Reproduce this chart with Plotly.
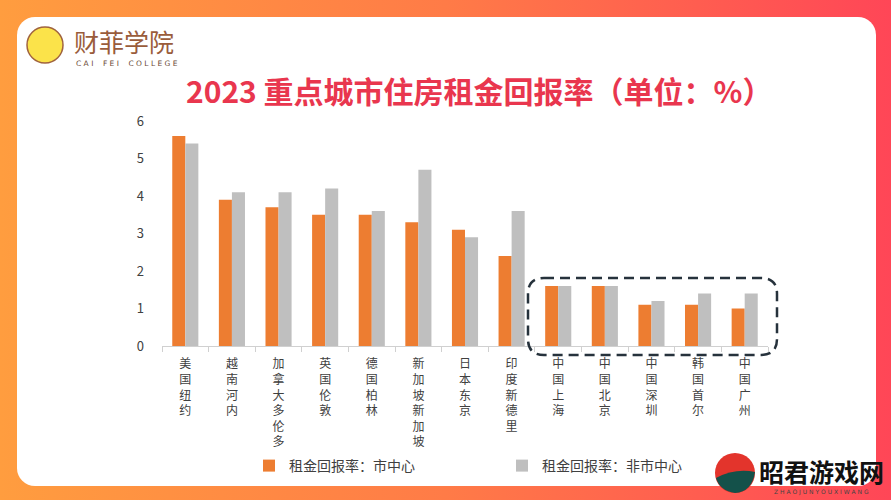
import base64
import plotly.graph_objects as go

# ---------------- data ----------------
cities = ["美国纽约", "越南河内", "加拿大多伦多", "英国伦敦", "德国柏林", "新加坡新加坡",
          "日本东京", "印度新德里", "中国上海", "中国北京", "中国深圳", "韩国首尔", "中国广州"]
center_vals = [5.6, 3.9, 3.7, 3.5, 3.5, 3.3, 3.1, 2.4, 1.6, 1.6, 1.1, 1.1, 1.0]
noncenter_vals = [5.4, 4.1, 4.1, 4.2, 3.6, 4.7, 2.9, 3.6, 1.6, 1.6, 1.2, 1.4, 1.4]
series_names = ["租金回报率：市中心", "租金回报率：非市中心"]
y_ticks = [0, 1, 2, 3, 4, 5, 6]
title_text = "2023 重点城市住房租金回报率（单位：%）"

W, H = 891, 500
FONT = "Noto Sans CJK SC"

def px(x):
    return x / W

def py(y):
    return 1 - y / H

# vertical tick labels: one character per line
tick_text = ["<br>".join(list(c)) for c in cities]

fig = go.Figure()
fig.add_trace(go.Bar(x=cities, y=center_vals, name=series_names[0],
                     marker=dict(color="#ED7D31", line=dict(width=0))))
fig.add_trace(go.Bar(x=cities, y=noncenter_vals, name=series_names[1],
                     marker=dict(color="#BFBFBF", line=dict(width=0))))

# background: gradient frame + white rounded card (SVG image)
svg = f'''<svg xmlns="http://www.w3.org/2000/svg" width="{W}" height="{H}" viewBox="0 0 {W} {H}" preserveAspectRatio="none">
<defs><linearGradient id="g" x1="0" y1="0" x2="1" y2="0">
<stop offset="0" stop-color="#FF9D3F"/><stop offset="0.5" stop-color="#FF7B47"/><stop offset="1" stop-color="#FF4657"/>
</linearGradient></defs>
<rect x="0" y="0" width="{W}" height="{H}" fill="url(#g)"/>
<rect x="17" y="17" width="859" height="469" rx="18" ry="18" fill="#FFFFFF"/>
</svg>'''
src = "data:image/svg+xml;base64," + base64.b64encode(svg.encode("utf-8")).decode("ascii")

# dashed rounded rectangle around Chinese cities
x0, x1, yt, yb, r = 528, 777, 278, 355, 16
rx, ry = r / W, r / H
X0, X1, YT, YB = px(x0), px(x1), py(yt), py(yb)
path = (f"M{X0+rx},{YT} L{X1-rx},{YT} Q{X1},{YT} {X1},{YT-ry} "
        f"L{X1},{YB+ry} Q{X1},{YB} {X1-rx},{YB} "
        f"L{X0+rx},{YB} Q{X0},{YB} {X0},{YB+ry} "
        f"L{X0},{YT-ry} Q{X0},{YT} {X0+rx},{YT} Z")

shapes = [
    dict(type="path", path=path, xref="paper", yref="paper",
         line=dict(color="#26323C", width=2.5, dash="10px,6px"), fillcolor="rgba(0,0,0,0)"),
    # logo cat circle
    dict(type="circle", xref="paper", yref="paper",
         x0=px(27), x1=px(63), y0=py(63), y1=py(27),
         fillcolor="#FBE34A", line=dict(color="#A0633E", width=1.5)),
    # watermark logo
    dict(type="circle", xref="paper", yref="paper",
         x0=px(715), x1=px(755), y0=py(493), y1=py(453),
         fillcolor="#E3342C", line=dict(width=0)),
    dict(type="path", xref="paper", yref="paper",
         path=f"M{px(716)},{py(478)} Q{px(735)},{py(468)} {px(755)},{py(472)} "
              f"Q{px(752)},{py(492)} {px(735)},{py(493)} Q{px(720)},{py(491)} {px(716)},{py(478)} Z",
         fillcolor="#14514A", line=dict(width=0)),
]

annotations = [
    dict(text=f"<b>{title_text}</b>", x=px(479), y=py(90), xref="paper", yref="paper",
         showarrow=False, xanchor="center", yanchor="middle",
         font=dict(family=FONT, size=30, color="#E9364E")),
    dict(text="财菲学院", x=px(72), y=py(41.5), xref="paper", yref="paper",
         showarrow=False, xanchor="left", yanchor="middle",
         font=dict(family=FONT, size=25, color="#9A5C3B")),
    dict(text="C A I    F E I    C O L L E G E", x=px(74), y=py(63.5), xref="paper", yref="paper",
         showarrow=False, xanchor="left", yanchor="middle",
         font=dict(family="DejaVu Sans", size=7.5, color="#6B4A36")),
    dict(text="<b>昭君游戏网</b>", x=px(821), y=py(471), xref="paper", yref="paper",
         showarrow=False, xanchor="center", yanchor="middle",
         font=dict(family=FONT, size=25, color="#111111")),
    dict(text="Z H A O J U N Y O U X I W A N G", x=px(821), y=py(492), xref="paper", yref="paper",
         showarrow=False, xanchor="center", yanchor="middle",
         font=dict(family="DejaVu Sans", size=6, color="#444444")),
]

fig.update_layout(
    width=W, height=H,
    margin=dict(l=0, r=0, t=0, b=0, pad=0),
    paper_bgcolor="#FF7B47",
    plot_bgcolor="rgba(0,0,0,0)",
    barmode="group",
    bargap=0.44,
    bargroupgap=0,
    font=dict(family=FONT, color="#404040"),
    images=[dict(source=src, xref="paper", yref="paper", x=0, y=1, sizex=1, sizey=1,
                 xanchor="left", yanchor="top", sizing="stretch", layer="below")],
    xaxis=dict(domain=[px(162), px(768)], type="category", automargin=False,
               tickmode="array", tickvals=cities, ticktext=tick_text,
               showline=True, linecolor="#D0D0D0", linewidth=1,
               ticks="outside", tickson="boundaries", ticklen=5, tickcolor="#D0D0D0",
               ticklabelstandoff=7,
               tickangle=0, tickfont=dict(family=FONT, size=12, color="#404040"),
               showgrid=False, fixedrange=True),
    yaxis=dict(domain=[py(346), py(121)], range=[0, 6], automargin=False,
               tickvals=y_ticks, ticktext=[str(v) for v in y_ticks],
               showgrid=False, zeroline=False, showline=False,
               ticklabelstandoff=17,
               tickfont=dict(family=FONT, size=13, color="#404040"), fixedrange=True),
    legend=dict(orientation="h", x=px(249), y=py(466), xanchor="left", yanchor="middle",
                entrywidth=208, entrywidthmode="pixels",
                font=dict(family=FONT, size=14, color="#404040"),
                bgcolor="rgba(0,0,0,0)", itemclick=False),
    shapes=shapes,
    annotations=annotations,
)

fig.write_html("out.html", config={"displayModeBar": False},
               post_script="document.body.style.margin='0';document.body.style.overflow='hidden';")
